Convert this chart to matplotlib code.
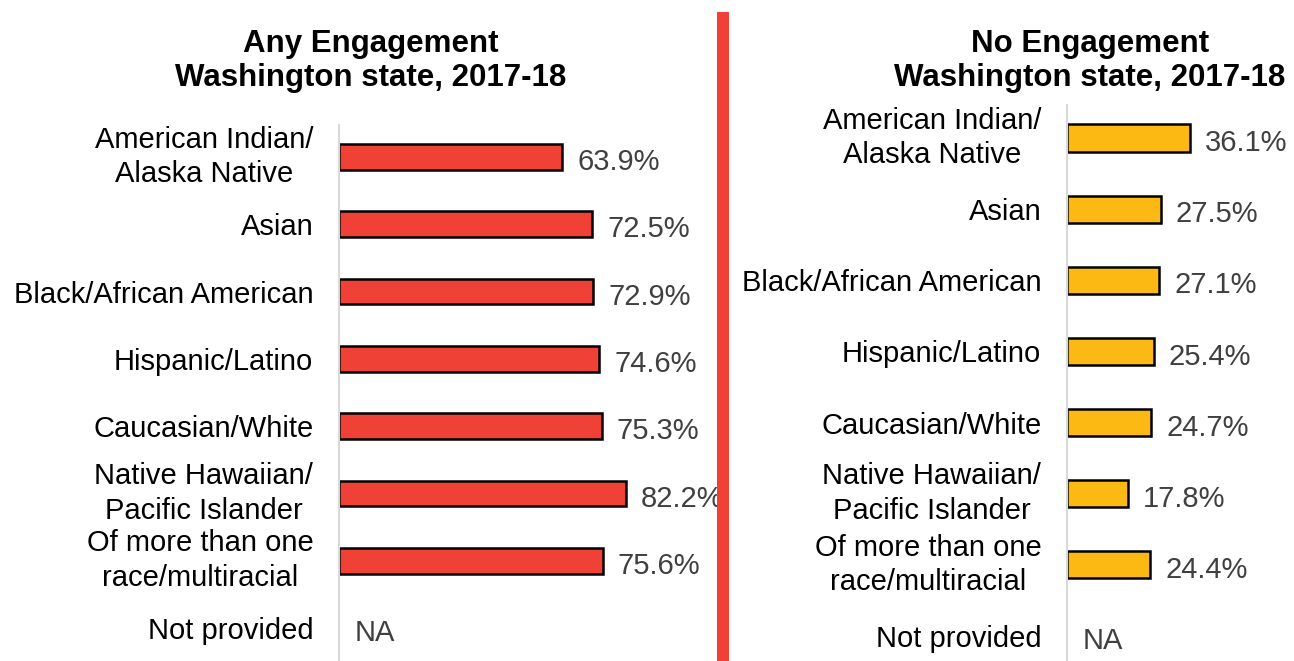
import matplotlib.pyplot as plt
from matplotlib.patches import Rectangle

plt.rcParams['font.family'] = ['Liberation Sans', 'DejaVu Sans']

# data
categories = ['American Indian/\nAlaska Native', 'Asian', 'Black/African American',
              'Hispanic/Latino', 'Caucasian/White', 'Native Hawaiian/\nPacific Islander',
              'Of more than one\nrace/multiracial', 'Not provided']
any_engagement = [63.9, 72.5, 72.9, 74.6, 75.3, 82.2, 75.6, None]
no_engagement = [36.1, 27.5, 27.1, 25.4, 24.7, 17.8, 24.4, None]

W, H = 1294, 661
fig = plt.figure(figsize=(W / 100, H / 100), dpi=100)

RED = '#EF4136'
YELLOW = '#FDB913'
GRAY_TXT = '#404040'


def panel(rect, values, color, xmax, ylim, bar_h):
    ax = fig.add_axes(rect)
    idx = list(range(len(categories)))
    for i, v in zip(idx, values):
        if v is None:
            ax.annotate('NA', (0, i), xytext=(11.5, -1.5), textcoords='offset points',
                        va='center_baseline', ha='left', fontsize=21, color=GRAY_TXT)
            continue
        ax.barh(i, v, height=bar_h, color=color, edgecolor='black', linewidth=1.8)
        ax.annotate(f'{v}%', (v, i), xytext=(10.8, -1.5), textcoords='offset points',
                    va='center_baseline', ha='left', fontsize=21, color=GRAY_TXT,
                    annotation_clip=False)
    ax.set_xlim(0, xmax)
    ax.set_ylim(*ylim)
    ax.set_yticks(idx)
    labels = ax.set_yticklabels(categories, fontsize=21, multialignment='center',
                                linespacing=1.3)
    for lab in labels:
        if '\n' in lab.get_text():
            lab.set_va('center')
    ax.tick_params(axis='y', length=0, pad=18.5)
    ax.set_xticks([])
    for s in ['top', 'right', 'bottom']:
        ax.spines[s].set_visible(False)
    ax.spines['left'].set_color('#D9D9D9')
    ax.spines['left'].set_linewidth(1.5)
    ax.patch.set_alpha(0)
    return ax


panel([339 / W, 0, (718 - 339) / W, (661 - 125) / H], any_engagement, RED,
      379 / 3.49, (7.49, -0.475), 0.38)
panel([1067 / W, 0, (W - 1067) / W, (661 - 105) / H], no_engagement, YELLOW,
      227 / 3.41, (7.35, -0.464), 0.38)

fig.text(371 / W, 1 - 44 / H, 'Any Engagement', ha='center', va='center',
         fontsize=22.5, fontweight='bold')
fig.text(371 / W, 1 - 78 / H, 'Washington state, 2017-18', ha='center', va='center',
         fontsize=22.5, fontweight='bold')
fig.text(1090 / W, 1 - 44 / H, 'No Engagement', ha='center', va='center',
         fontsize=22.5, fontweight='bold')
fig.text(1090 / W, 1 - 78 / H, 'Washington state, 2017-18', ha='center', va='center',
         fontsize=22.5, fontweight='bold')

fig.patches.append(Rectangle((717 / W, 0), 12 / W, (661 - 12) / H, transform=fig.transFigure,
                             facecolor=RED, edgecolor='none', zorder=10))

fig.savefig('out.png', dpi=100)
